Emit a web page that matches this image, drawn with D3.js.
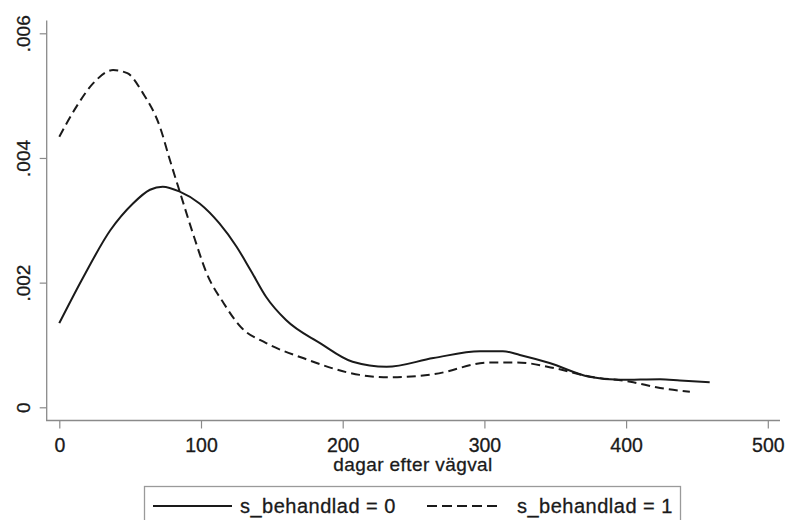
<!DOCTYPE html>
<html>
<head>
<meta charset="utf-8">
<script src="https://cdn.jsdelivr.net/npm/d3@7"></script>
<style>
  body { margin: 0; background: #fff; }
  svg { display: block; font-family: "Liberation Sans", Arial, sans-serif; }
</style>
</head>
<body>
<div class="chart"></div>
<script>
// kernel density, s_behandlad = 0 (solid)
var days0 = [0, 17, 36, 52, 64, 73, 85, 99, 113, 125, 135, 146, 160, 184, 207, 231, 264, 297, 313, 325, 346, 374, 396, 424, 438, 459];
var dens0 = [0.00135, 0.00209, 0.00284, 0.00327, 0.00349, 0.00354, 0.00346, 0.00327, 0.00295, 0.00258, 0.00220, 0.00177, 0.00140, 0.00103, 0.00073, 0.00065, 0.00079, 0.00090, 0.00090, 0.00084, 0.00071, 0.00049, 0.00044, 0.00045, 0.00043, 0.00040];

// kernel density, s_behandlad = 1 (dashed)
var days1 = [0, 12, 24, 38, 48, 59, 71, 78, 85, 95, 104, 116, 128, 146, 172, 212, 233, 264, 304, 323, 349, 375, 403, 424, 445];
var dens1 = [0.00434, 0.00482, 0.00520, 0.00541, 0.00536, 0.00504, 0.00450, 0.00397, 0.00346, 0.00274, 0.00215, 0.00167, 0.00129, 0.00103, 0.00079, 0.00052, 0.00048, 0.00053, 0.00072, 0.00072, 0.00063, 0.00049, 0.00041, 0.00031, 0.00025];

var xTicks = [0, 100, 200, 300, 400, 500];
var yTicks = [0, 0.002, 0.004, 0.006];
var yTickLabels = ["0", ".002", ".004", ".006"];
var legendLabels = ["s_behandlad = 0", "s_behandlad = 1"];

var width = 785, height = 520;

var svg = d3.select(".chart")
			.append("svg")
				.attr("width", width)
				.attr("height", height);

var x = d3.scaleLinear().domain([0, 500]).range([59.3, 767.8]);
var y = d3.scaleLinear().domain([0, 0.006]).range([407.3, 33.3]);

var axisColor = "#8a8a8a";
var textColor = "#1a1a1a";

//axis lines
svg.append("line")
	.attr("x1", 46.7).attr("x2", 46.7)
	.attr("y1", 20.5).attr("y2", 420.5)
	.attr("stroke", axisColor).attr("stroke-width", 1.3);
svg.append("line")
	.attr("x1", 46).attr("x2", 780)
	.attr("y1", 420.5).attr("y2", 420.5)
	.attr("stroke", axisColor).attr("stroke-width", 1.3);

//y axis
var yAxis = svg.append("g")
	.attr("transform", "translate(46.7,0)")
	.call(d3.axisLeft(y).tickValues(yTicks).tickSize(7).tickPadding(0)
		.tickFormat(function(d, i){ return yTickLabels[i]; }));
yAxis.select(".domain").remove();
yAxis.selectAll(".tick line").attr("stroke", axisColor).attr("stroke-width", 1.2);
yAxis.selectAll(".tick text")
	.attr("font-size", "19px")
	.attr("fill", textColor)
	.attr("stroke", textColor)
	.attr("stroke-width", 0.3)
	.attr("text-anchor", "middle")
	.attr("x", 0)
	.attr("dy", 0)
	.attr("transform", "translate(-16.5,0) rotate(-90)");

//x axis
var xAxis = svg.append("g")
	.attr("transform", "translate(0,420.5)")
	.call(d3.axisBottom(x).tickValues(xTicks).tickSize(8).tickPadding(0));
xAxis.select(".domain").remove();
xAxis.selectAll(".tick line").attr("stroke", axisColor).attr("stroke-width", 1.2);
xAxis.selectAll(".tick text")
	.attr("font-size", "19.5px")
	.attr("fill", textColor)
	.attr("stroke", textColor)
	.attr("stroke-width", 0.3)
	.attr("y", 31)
	.attr("dy", 0);

//axis title
svg.append("text")
	.attr("x", 413)
	.attr("y", 470.5)
	.attr("text-anchor", "middle")
	.attr("font-size", "19px")
	.attr("letter-spacing", "0.4px")
	.attr("fill", textColor)
	.attr("stroke", textColor)
	.attr("stroke-width", 0.3)
	.text("dagar efter vägval");

//density lines
var line = d3.line()
	.x(function(d){ return x(d[0]); })
	.y(function(d){ return y(d[1]); })
	.curve(d3.curveMonotoneX);

svg.append("path")
	.datum(d3.zip(days0, dens0))
	.attr("d", line)
	.attr("fill", "none")
	.attr("stroke", textColor)
	.attr("stroke-width", 2);

svg.append("path")
	.datum(d3.zip(days1, dens1))
	.attr("d", line)
	.attr("fill", "none")
	.attr("stroke", textColor)
	.attr("stroke-width", 2)
	.attr("stroke-dasharray", "9,5");

//legend
svg.append("rect")
	.attr("x", 144.5).attr("y", 486.5)
	.attr("width", 536).attr("height", 44)
	.attr("fill", "none")
	.attr("stroke", "#9a9a9a")
	.attr("stroke-width", 1.3);

var legendItems = [
	{ x1: 153, x2: 232, tx: 240, dash: null },
	{ x1: 427, x2: 500, tx: 517, dash: "10,5" }
];

legendItems.forEach(function(item, i){
	var l = svg.append("line")
		.attr("x1", item.x1).attr("x2", item.x2)
		.attr("y1", 506).attr("y2", 506)
		.attr("stroke", textColor)
		.attr("stroke-width", 2);
	if(item.dash){
		l.attr("stroke-dasharray", item.dash);
	}
	svg.append("text")
		.attr("x", item.tx)
		.attr("y", 513)
		.attr("font-size", "20px")
		.attr("letter-spacing", "0.5px")
		.attr("fill", textColor)
		.attr("stroke", textColor)
		.attr("stroke-width", 0.3)
		.text(legendLabels[i]);
});
</script>
</body>
</html>
